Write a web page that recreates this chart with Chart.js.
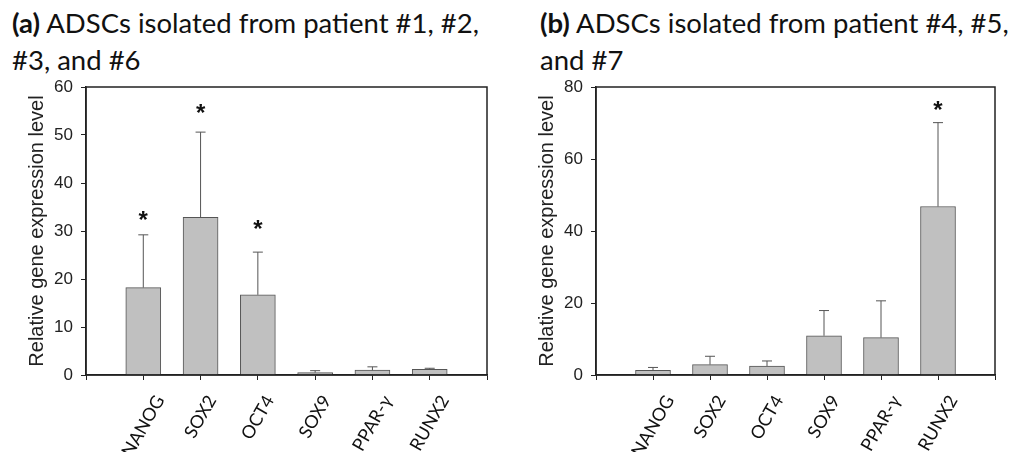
<!DOCTYPE html>
<html>
<head>
<meta charset="utf-8">
<script src="https://cdn.jsdelivr.net/npm/chart.js@4/dist/chart.umd.min.js"></script>
<style>
  body { margin: 0; background: #fff; width: 1014px; height: 452px; overflow: hidden; position: relative; }
  .ttl { position: absolute; font-family: Lato, "Open Sans", sans-serif; font-size: 27.5px; line-height: 37px; color: #111; white-space: nowrap; }
  canvas { position: absolute; top: 80px; }
</style>
</head>
<body>
<div class="ttl" style="left:12px; top:4px;"><b>(a)</b> ADSCs isolated from patient #1, #2,<br>#3, and #6</div>
<div class="ttl" style="left:540px; top:4px;"><b>(b)</b> ADSCs isolated from patient #4, #5,<br>and #7</div>
<canvas id="chartA" width="500" height="372" style="left:0px;"></canvas>
<canvas id="chartB" width="514" height="372" style="left:500px;"></canvas>
<script>
// genes on the x axis (same for both panels)
const genes = ['NANOG', 'SOX2', 'OCT4', 'SOX9', 'PPAR-\u03B3', 'RUNX2'];

// panel (a): patients #1, #2, #3, #6
const meanA = [18.2, 32.85, 16.7, 0.5, 1.0, 1.2];
const errTopA = [29.2, 50.6, 25.6, 0.9, 1.7, 1.4];
const starA = [32.9, 55.2, 31.1, null, null, null];

// panel (b): patients #4, #5, #7
const meanB = [1.3, 2.9, 2.5, 10.9, 10.4, 46.8];
const errTopB = [2.1, 5.2, 3.9, 17.9, 20.6, 70.1];
const starB = [null, null, null, null, null, 74.5];

const yTitle = 'Relative gene expression level';

// draws upper error whiskers, asterisks and the closed frame
const errBars = {
    id: 'errbars',
    afterDatasetsDraw(chart, args, opts) {
        const ctx = chart.ctx;
        const yScale = chart.scales.y;
        const meta = chart.getDatasetMeta(0);
        ctx.save();
        opts.err.forEach((e, i) => {
            const bar = meta.data[i + 1];
            const yTop = yScale.getPixelForValue(e);
            ctx.strokeStyle = '#555';
            ctx.lineWidth = 1;
            ctx.beginPath();
            ctx.moveTo(bar.x, bar.y);
            ctx.lineTo(bar.x, yTop);
            ctx.moveTo(bar.x - 5, yTop);
            ctx.lineTo(bar.x + 5, yTop);
            ctx.stroke();
            if (opts.stars[i] != null) {
                // star value = visual centre of the asterisk glyph
                ctx.fillStyle = '#111';
                ctx.font = 'bold 24px "Liberation Sans", Arial, sans-serif';
                ctx.textAlign = 'center';
                ctx.textBaseline = 'alphabetic';
                ctx.fillText('*', bar.x, yScale.getPixelForValue(opts.stars[i]) + 11);
            }
        });
        const a = chart.chartArea;
        ctx.strokeStyle = '#222';
        ctx.lineWidth = 1.5;
        ctx.strokeRect(a.left, a.top, a.right - a.left, a.bottom - a.top);
        ctx.restore();
    }
};

// rotated category labels centred under their tick (SigmaPlot style)
const slantLabels = {
    id: 'slantlabels',
    afterDraw(chart) {
        const ctx = chart.ctx;
        const xScale = chart.scales.x;
        const ang = 60 * Math.PI / 180;
        ctx.save();
        ctx.font = '18px Lato, "Open Sans", sans-serif';
        ctx.fillStyle = '#111';
        ctx.textAlign = 'center';
        ctx.textBaseline = 'middle';
        chart.data.labels.forEach((lab, i) => {
            if (!lab) return;
            const half = ctx.measureText(lab).width / 2;
            const x = xScale.getPixelForValue(i);
            const y = chart.chartArea.bottom + 22 + half * Math.sin(ang);
            ctx.save();
            ctx.translate(x, y);
            ctx.rotate(-ang);
            ctx.fillText(lab, 0, 0);
            ctx.restore();
        });
        ctx.restore();
    }
};

function makeChart(id, means, errs, stars, yMax, yStep, padLeft, yWidth, padRight) {
    const ctx = document.getElementById(id).getContext('2d');
    return new Chart(ctx, {
        type: 'bar',
        data: {
            labels: [''].concat(genes, ['']),
            datasets: [{
                data: [null].concat(means, [null]),
                backgroundColor: '#c0c0c0',
                borderColor: '#555',
                borderWidth: 1,
                barThickness: 35
            }]
        },
        options: {
            responsive: false,
            animation: false,
            layout: { padding: { top: 7, right: padRight, left: padLeft, bottom: 0 } },
            plugins: {
                legend: { display: false },
                tooltip: { enabled: false },
                errbars: { err: errs, stars: stars }
            },
            scales: {
                x: {
                    offset: false,
                    grid: { offset: false, drawOnChartArea: false, tickLength: 5, color: '#222' },
                    border: { color: '#222', width: 1.5 },
                    ticks: { display: false, autoSkip: false },
                    afterFit(scale) {
                        scale.height = 77;
                        scale.paddingLeft = 0;
                        scale.paddingRight = 0;
                    }
                },
                y: {
                    min: 0,
                    max: yMax,
                    grid: { drawOnChartArea: false, tickLength: 5, color: '#222' },
                    border: { color: '#222', width: 1.5 },
                    ticks: {
                        stepSize: yStep,
                        padding: 8,
                        color: '#222',
                        font: { family: '"Liberation Sans", Arial, sans-serif', size: 17 }
                    },
                    title: {
                        display: true,
                        text: yTitle,
                        color: '#222',
                        padding: 0,
                        font: { family: '"Liberation Sans", Arial, sans-serif', size: 20 }
                    },
                    afterFit(scale) {
                        scale.width = yWidth;
                        scale.paddingTop = 0;
                        scale.paddingBottom = 0;
                    }
                }
            }
        },
        plugins: [errBars, slantLabels]
    });
}

makeChart('chartA', meanA, errTopA, starA, 60, 10, 25, 61, 13);
makeChart('chartB', meanB, errTopB, starB, 80, 20, 35, 61, 19);
</script>
</body>
</html>
